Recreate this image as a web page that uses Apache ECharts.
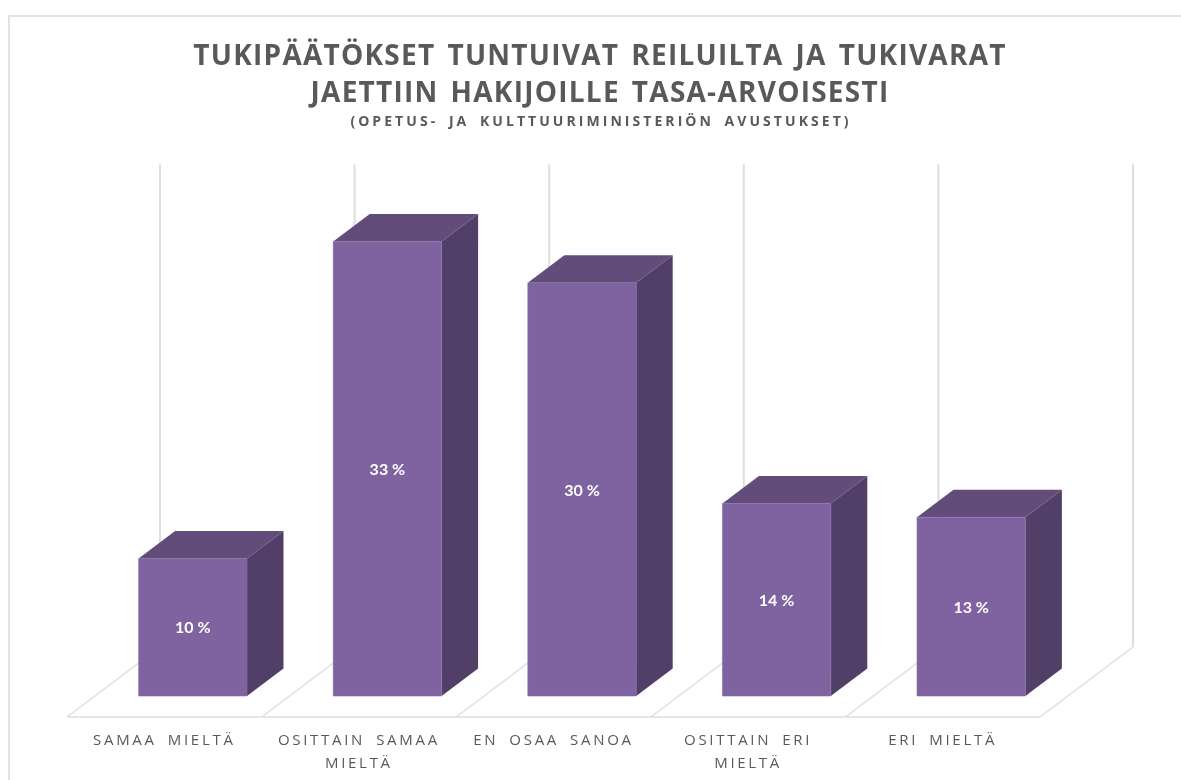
<!DOCTYPE html>
<html>
<head>
<meta charset="utf-8">
<style>html,body{margin:0;padding:0;background:#fff}#c{width:1181px;height:780px}</style>
<script src="https://cdn.jsdelivr.net/npm/echarts@6/dist/echarts.min.js"></script>
</head>
<body>
<div id="c"></div>
<script>
const categories = ['SAMAA MIELTÄ', 'OSITTAIN SAMAA\nMIELTÄ', 'EN OSAA SANOA', 'OSITTAIN ERI\nMIELTÄ', 'ERI MIELTÄ'];
const shares = [10, 33, 30, 14, 13];
const wallValue = [35, 35, 35, 35, 35];
const titleText = 'TUKIPÄÄTÖKSET TUNTUIVAT REILUILTA JA TUKIVARAT\nJAETTIIN HAKIJOILLE TASA-ARVOISESTI';
const subtitleText = '(OPETUS- JA KULTTUURIMINISTERIÖN AVUSTUKSET)';

// Wide tracking of the original text: canvas letter and word spacing by font size.
const spacingBySize = { '28px': ['1.25px', '3.5px'], '14px': ['3.05px', '4px'], '15px': ['2.7px', '4.5px'] };
const proto = CanvasRenderingContext2D.prototype;
const nativeFill = proto.fillText;
proto.fillText = function (t, x, y, m) {
  const size = (this.font.match(/(\d+)px/) || [])[0];
  const s = spacingBySize[size] || ['0px', '0px'];
  this.letterSpacing = s[0];
  this.wordSpacing = s[1];
  return m === undefined ? nativeFill.call(this, t, x, y) : nativeFill.call(this, t, x, y, m);
};

const FRONT = '#7F63A1', TOP = '#614C7A', SIDE = '#523F68', EDGE = '#8A70AA', LINE = '#DEDEDE';
const FLOOR = { dx: 93, dy: -70 };
const INSET = { dx: 28.5, dy: -21 };
const BOX = { dx: 36.5, dy: -27.5 };
const BAR_RATIO = 0.557;

function renderWall(params, api) {
  const i = api.value(0);
  const band = api.size([1, 0])[0];
  const c = api.coord([i, 0]);
  const top = api.coord([i, api.value(1)])[1];
  const x0 = c[0] - band / 2, y0 = c[1];
  const seg = (a, b, c2, d, w) => ({ type: 'line', shape: { x1: a, y1: b, x2: c2, y2: d }, style: { stroke: LINE, lineWidth: w } });
  const bound = x => [
    seg(x, y0, x + FLOOR.dx, y0 + FLOOR.dy, 1.5),
    seg(x + FLOOR.dx, y0 + FLOOR.dy, x + FLOOR.dx, top + FLOOR.dy, 2)
  ];
  let children = [seg(x0, y0, x0 + band, y0, 1.5)].concat(bound(x0));
  if (i === categories.length - 1) children = children.concat(bound(x0 + band));
  return { type: 'group', children };
}

function renderBar(params, api) {
  const i = api.value(0), v = api.value(1);
  const band = api.size([1, 0])[0];
  const w = band * BAR_RATIO;
  const base = api.coord([i, 0]);
  const head = api.coord([i, v]);
  const l = base[0] + INSET.dx - w / 2, r = l + w;
  const b = base[1] + INSET.dy, t = head[1] + INSET.dy + 0.5;
  const poly = (points, fill) => ({ type: 'polygon', shape: { points }, style: { fill } });
  return {
    type: 'group',
    children: [
      poly([[r, b], [r + BOX.dx, b + BOX.dy], [r + BOX.dx, t + BOX.dy], [r, t]], SIDE),
      poly([[l, t], [r, t], [r + BOX.dx, t + BOX.dy], [l + BOX.dx, t + BOX.dy]], TOP),
      { type: 'rect', shape: { x: l, y: t, width: w, height: b - t }, style: { fill: FRONT, stroke: EDGE, lineWidth: 0.6 } },
      { type: 'text', x: (l + r) / 2, y: (t + b) / 2 + 1, style: { text: v + ' %', fill: '#fff', font: '700 16px Lato', align: 'center', verticalAlign: 'middle' } }
    ]
  };
}

const chart = echarts.init(document.getElementById('c'));
chart.setOption({
  animation: false,
  backgroundColor: '#fff',
  title: [
    { text: titleText, left: 595, top: 34, textAlign: 'center', textStyle: { fontFamily: 'Open Sans', fontWeight: 700, fontSize: 28, lineHeight: 37, color: '#595959' } },
    { text: subtitleText, left: 596, top: 110, textAlign: 'center', textStyle: { fontFamily: 'Open Sans', fontWeight: 700, fontSize: 14, color: '#595959' } }
  ],
  graphic: [{
    type: 'polyline', silent: true, z: -1,
    shape: { points: [[9, 780], [9, 16], [1181, 16]] },
    style: { fill: null, stroke: '#E2E2E2', lineWidth: 2 }
  }],
  grid: { left: 67, width: 973, top: 234.3, height: 482.7, containLabel: false },
  xAxis: {
    type: 'category', data: categories,
    axisLine: { show: false }, axisTick: { show: false }, splitLine: { show: false },
    axisLabel: { interval: 0, margin: 12, fontFamily: 'Open Sans', fontSize: 15, lineHeight: 23, color: '#595959' }
  },
  yAxis: { type: 'value', min: 0, max: 35, show: false, splitLine: { show: false } },
  series: [
    { type: 'custom', name: 'wall', silent: true, z: 1, clip: false, renderItem: renderWall, encode: { x: 0, y: 1 },
      data: categories.map((c, i) => [i, wallValue[i]]) },
    { type: 'custom', name: 'share', silent: true, z: 2, clip: false, renderItem: renderBar, encode: { x: 0, y: 1 },
      data: categories.map((c, i) => [i, shares[i]]) }
  ]
});
</script>
</body>
</html>
